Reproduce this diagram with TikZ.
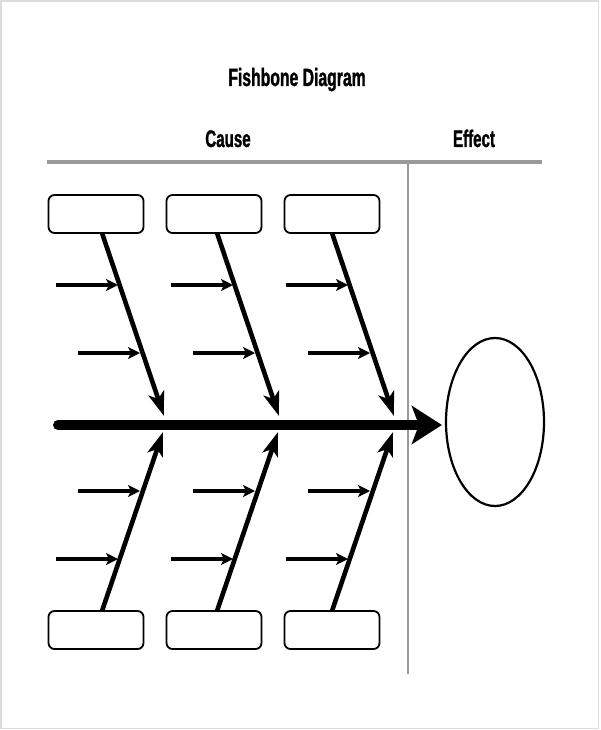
\documentclass[tikz,border=0pt]{standalone}
\usepackage{fontspec}
\setmainfont{Liberation Sans}[FakeStretch=0.63,BoldFeatures={FakeBold=1.2}]
\usetikzlibrary{arrows.meta,shapes.geometric}
\definecolor{rulegray}{HTML}{9A9A9A}
\definecolor{framegray}{HTML}{DCDCDC}
\begin{document}
\begin{tikzpicture}[x=1pt,y=-1pt,
  cbox/.style={draw,line width=1.8pt,rounded corners=6pt,minimum width=95pt,minimum height=38pt,inner sep=0pt},
  bone/.style={line width=4.6pt,-{Stealth[length=24pt,width=16pt,inset=6pt]}},
  twig/.style={line width=3.6pt,-{Stealth[length=12pt,width=12pt,inset=3pt]}},
  spine/.style={line width=10pt,line cap=round,-{Stealth[length=30pt,width=38pt,inset=7pt]}},
  rulel/.style={draw=rulegray,line width=3.5pt},
  rulev/.style={draw=rulegray,line width=2.5pt},
  lbl/.style={font=\bfseries\fontsize{24}{28}\selectfont,anchor=base,inner sep=0pt},
  ttl/.style={font=\bfseries\fontsize{25}{30}\selectfont,anchor=base,inner sep=0pt}]
\useasboundingbox (0,0) rectangle (600,730);
\draw[framegray,line width=1.5pt] (1,1) rectangle (598.5,728.5);

% titles
\node[ttl] (title) at (297,86) {Fishbone Diagram};
\node[lbl] (cause) at (228,147) {Cause};
\node[lbl] (effecttxt) at (474,147) {Effect};

% rules
\coordinate (hl) at (47,162);
\coordinate (hr) at (542,162);
\coordinate (vt) at (408,162);
\coordinate (vb) at (408,674);
\draw[rulel] (hl) -- (hr);
\draw[rulev] (vt) -- (vb);

% effect ellipse
\node[draw,ellipse,line width=2.2pt,minimum width=98pt,minimum height=168pt,inner sep=0pt] (effect) at (495,422) {};

% spine
\coordinate (sl) at (58,425);
\draw[spine,shorten >=3pt] (sl) -- (effect.west |- sl);

% columns
\foreach \i/\bx/\dx in {1/96/0,2/214/115,3/332/230}{
  \node[cbox] (top\i) at (\bx,214) {};
  \node[cbox] (bot\i) at (\bx,630) {};
  \coordinate (ts\i) at (102+\dx,233);
  \coordinate (tt\i) at (164+\dx,416);
  \coordinate (bs\i) at (102+\dx,611);
  \coordinate (bt\i) at (163+\dx,432);
  \draw[bone] (ts\i) -- (tt\i);
  \draw[bone] (bs\i) -- (bt\i);
  % small causes, top
  \coordinate (a\i) at (56+\dx,285);
  \coordinate (A\i) at (118+\dx,285);
  \coordinate (b\i) at (78+\dx,353);
  \coordinate (B\i) at (140+\dx,353);
  \draw[twig] (a\i) -- (A\i);
  \draw[twig] (b\i) -- (B\i);
  % small causes, bottom
  \coordinate (c\i) at (78+\dx,491);
  \coordinate (C\i) at (140+\dx,491);
  \coordinate (d\i) at (56+\dx,559);
  \coordinate (D\i) at (118+\dx,559);
  \draw[twig] (c\i) -- (C\i);
  \draw[twig] (d\i) -- (D\i);
}
\end{tikzpicture}
\end{document}
